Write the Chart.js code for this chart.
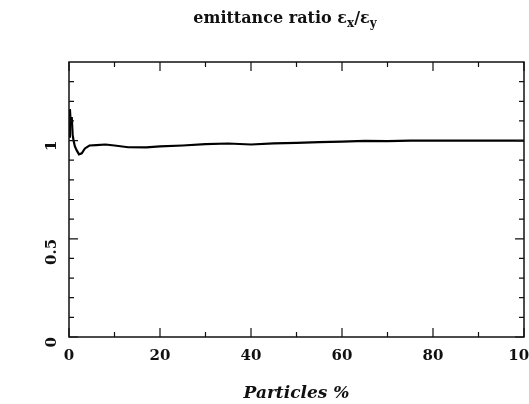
<!DOCTYPE html>
<html>
<head>
<meta charset="utf-8">
<script src="https://cdn.jsdelivr.net/npm/chart.js@4"></script>
<style>
  html, body { margin: 0; padding: 0; background: #fff; }
  #wrap { position: relative; width: 529px; height: 404px; overflow: hidden; }
  #title {
    position: absolute; left: 0; top: 8px; width: 570px; text-align: center;
    font-family: "DejaVu Serif", serif; font-weight: bold; font-size: 16px; color: #111;
  }
  #title sub { font-size: 12px; }
</style>
</head>
<body>
<div id="wrap">
  <div id="title">emittance ratio &epsilon;<sub>x</sub>/&epsilon;<sub>y</sub></div>
  <canvas id="chart" width="529" height="404"></canvas>
</div>
<script>
// percent of particles and the emittance ratio
const particles = [0, 0.2, 0.4, 0.6, 0.8, 1.0, 1.3, 1.7, 2.2, 2.8, 3.5, 4.5, 6, 8, 10, 13, 17, 20, 25, 30, 35, 40, 45, 50, 55, 60, 65, 70, 75, 80, 90, 100];
const ratio = [1.02, 1.16, 1.08, 1.12, 1.03, 1.0, 0.97, 0.95, 0.93, 0.935, 0.96, 0.975, 0.977, 0.98, 0.975, 0.966, 0.965, 0.97, 0.975, 0.982, 0.985, 0.98, 0.986, 0.988, 0.992, 0.995, 0.998, 0.997, 1.0, 1.0, 1.0, 1.0];

const xMajor = [0, 20, 40, 60, 80, 100];
const xMinor = [10, 30, 50, 70, 90];
const yMajor = [0, 0.5, 1];
const yMinor = [0.1, 0.2, 0.3, 0.4, 0.6, 0.7, 0.8, 0.9, 1.1, 1.2, 1.3];

const tickFont = { family: 'DejaVu Serif', weight: 'bold', size: 15 };

// frame with inward ticks on all four sides
const frame = {
  id: 'frame',
  afterDraw(chart) {
    const { ctx, chartArea: a, scales } = chart;
    ctx.save();
    ctx.strokeStyle = '#111';
    ctx.lineWidth = 1.5;
    ctx.strokeRect(a.left, a.top, a.right - a.left, a.bottom - a.top);
    ctx.lineWidth = 1.2;
    ctx.beginPath();
    const xt = (vals, len) => vals.forEach(v => {
      const px = scales.x.getPixelForValue(v);
      ctx.moveTo(px, a.bottom); ctx.lineTo(px, a.bottom - len);
      ctx.moveTo(px, a.top); ctx.lineTo(px, a.top + len);
    });
    const yt = (vals, len) => vals.forEach(v => {
      const py = scales.y.getPixelForValue(v);
      ctx.moveTo(a.left, py); ctx.lineTo(a.left + len, py);
      ctx.moveTo(a.right, py); ctx.lineTo(a.right - len, py);
    });
    xt(xMajor, 9); xt(xMinor, 5);
    yt(yMajor, 9); yt(yMinor, 5);
    ctx.stroke();
    ctx.restore();
  }
};

new Chart(document.getElementById('chart').getContext('2d'), {
  type: 'line',
  data: {
    datasets: [{
      data: particles.map((p, i) => ({ x: p, y: ratio[i] })),
      borderColor: '#000',
      borderWidth: 2.2,
      pointRadius: 0,
      tension: 0,
      fill: false,
    }],
  },
  options: {
    responsive: false,
    animation: false,
    layout: { padding: { top: 62, right: 5, left: 0, bottom: 0 } },
    plugins: { legend: { display: false }, tooltip: { enabled: false } },
    scales: {
      x: {
        type: 'linear',
        min: 0, max: 100,
        afterBuildTicks: s => { s.ticks = xMajor.map(v => ({ value: v })); },
        afterFit: s => { s.height = 67; s.paddingLeft = 0; s.paddingRight = 0; },
        grid: { display: false, drawTicks: false },
        border: { display: false },
        ticks: { color: '#111', font: tickFont, padding: 10, maxRotation: 0 },
        title: {
          display: true, text: 'Particles %', color: '#111',
          font: { family: 'DejaVu Serif', weight: 'bold', style: 'italic', size: 17 },
          padding: { top: 16, bottom: 0 },
        },
      },
      y: {
        min: 0, max: 1.4,
        afterBuildTicks: s => { s.ticks = yMajor.map(v => ({ value: v })); },
        afterFit: s => { s.width = 69; s.paddingTop = 0; s.paddingBottom = 0; },
        grid: { display: false, drawTicks: false },
        border: { display: false },
        ticks: {
          color: '#111', font: tickFont, padding: 17,
          minRotation: 90, maxRotation: 90,
          callback: v => String(v),
        },
      },
    },
  },
  plugins: [frame],
});
</script>
</body>
</html>
